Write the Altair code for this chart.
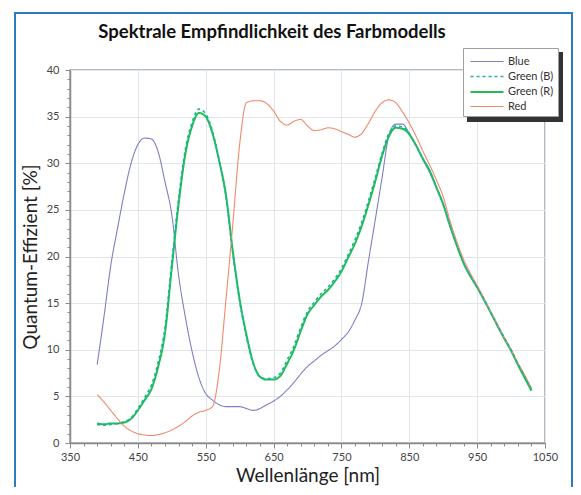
import altair as alt
import pandas as pd

wavelength = list(range(390, 1031, 10))

blue = [8.4, 13.5, 19.0, 23.0, 26.8, 30.0, 32.0, 32.7, 32.6, 31.2,
        28.0, 24.5, 18.0, 13.5, 9.8, 7.0, 5.3, 4.6, 4.1, 3.9,
        3.9, 3.9, 3.7, 3.5, 3.7, 4.1, 4.5, 5.0, 5.7, 6.5,
        7.4, 8.2, 8.8, 9.4, 9.9, 10.4, 11.1, 11.9, 13.2, 15.0,
        19.6, 24.0, 28.5, 33.0, 34.2, 34.2, 33.2, 31.9, 30.4, 29.0,
        27.4, 25.6, 23.3, 21.2, 19.3, 17.9, 16.7, 15.3, 14.0, 12.5,
        11.2, 10.0, 8.5, 7.2, 5.7]

green_r = [2.1, 2.0, 2.1, 2.1, 2.2, 2.6, 3.5, 4.6, 5.8, 8.2,
           11.8, 18.8, 25.6, 31.0, 34.0, 35.4, 35.0, 33.2, 30.2, 26.5,
           20.5, 15.4, 11.6, 8.6, 7.1, 6.8, 6.8, 7.2, 8.5, 10.0,
           12.0, 13.8, 14.8, 15.7, 16.4, 17.3, 18.4, 19.9, 21.4, 23.3,
           25.6, 28.1, 30.8, 32.9, 33.8, 33.7, 33.1, 31.9, 30.5, 29.2,
           27.4, 25.6, 23.3, 21.2, 19.3, 17.9, 16.7, 15.4, 14.0, 12.6,
           11.2, 9.9, 8.4, 7.0, 5.6]

green_b = [2.0, 1.9, 2.0, 2.1, 2.3, 2.7, 3.7, 4.9, 6.2, 8.7,
           12.4, 19.4, 26.2, 31.5, 34.4, 35.8, 35.3, 33.4, 30.3, 26.4,
           20.3, 15.2, 11.4, 8.5, 7.1, 6.9, 7.0, 7.5, 8.9, 10.4,
           12.4, 14.1, 15.1, 16.0, 16.7, 17.6, 18.7, 20.2, 21.8, 23.7,
           26.0, 28.5, 31.1, 33.2, 34.0, 33.9, 33.2, 31.9, 30.5, 29.2,
           27.4, 25.6, 23.3, 21.2, 19.3, 17.9, 16.7, 15.4, 14.0, 12.6,
           11.3, 10.0, 8.5, 7.1, 5.7]

red = [5.2, 4.4, 3.5, 2.6, 1.8, 1.3, 1.0, 0.85, 0.8, 0.9,
       1.1, 1.4, 1.8, 2.3, 2.9, 3.3, 3.5, 3.9, 7.8, 15.5,
       23.5, 32.0, 36.5, 36.7, 36.7, 36.4, 35.6, 34.5, 34.1, 34.5,
       34.7, 34.0, 33.5, 33.6, 33.8, 33.7, 33.4, 33.1, 32.8, 33.2,
       34.3, 35.6, 36.5, 36.8, 36.5, 35.5, 34.3, 32.9, 31.3, 29.8,
       28.2, 26.4, 23.8, 21.6, 19.7, 18.2, 16.9, 15.5, 14.1, 12.7,
       11.3, 10.0, 8.6, 7.3, 5.9]

series_names = ["Blue", "Green (B)", "Green (R)", "Red"]
series_colors = ["#7f7fc9", "#17b69a", "#22bb55", "#f2896b"]
series_dash = [[1, 0], [3, 3], [1, 0], [1, 0]]
series_width = [1.1, 1.6, 2.0, 1.1]

x_ticks = list(range(350, 1051, 20))
y_ticks = list(range(0, 41, 1))

title_text = "Spektrale Empfindlichkeit des Farbmodells"

rows = []
for name, vals in zip(series_names, [blue, green_b, green_r, red]):
    for w, v in zip(wavelength, vals):
        rows.append({"Wellenlänge": w, "Effizienz": v, "Serie": name})
df = pd.DataFrame(rows)

FONT = "Lato"

color = alt.Color(
    "Serie:N",
    scale=alt.Scale(domain=series_names, range=series_colors),
    legend=alt.Legend(
        title=None, orient="none", legendX=393, legendY=-22,
        fillColor="white", strokeColor="#a0a0a0", padding=4,
        symbolType="M-1.9,0H1.9", symbolSize=300, symbolFillColor="transparent",
        labelFont=FONT, labelFontSize=11, labelColor="#333333", rowPadding=0,
        labelOffset=11, symbolOffset=10,
    ),
)
dash = alt.StrokeDash(
    "Serie:N", scale=alt.Scale(domain=series_names, range=series_dash), legend=None
)
swidth = alt.StrokeWidth(
    "Serie:N",
    scale=alt.Scale(type="ordinal", domain=series_names, range=series_width),
    legend=None,
)

x_enc = alt.X(
    "Wellenlänge:Q",
    scale=alt.Scale(domain=[350, 1050], nice=False, zero=False),
    axis=alt.Axis(
        title="Wellenlänge [nm]", values=x_ticks, format="d",
        labelExpr="datum.value % 100 == 50 ? datum.label : ''",
        tickSize={"condition": {"test": "datum.value % 100 == 50", "value": 5}, "value": 3},
        gridOpacity={"condition": {"test": "datum.value % 100 == 50", "value": 1}, "value": 0},
        labelOverlap=False, labelFlush=False, labelPadding=3, titlePadding=4,
    ),
)
y_enc = alt.Y(
    "Effizienz:Q",
    scale=alt.Scale(domain=[0, 40], nice=False),
    axis=alt.Axis(
        title="Quantum-Effizient [%]", values=y_ticks, format="d",
        labelExpr="datum.value % 5 == 0 ? datum.label : ''",
        tickSize={"condition": {"test": "datum.value % 5 == 0", "value": 5}, "value": 3},
        gridOpacity={"condition": {"test": "datum.value % 5 == 0", "value": 1}, "value": 0},
        labelOverlap=False, labelFlush=False, labelPadding=6, titlePadding=6,
    ),
)

base = alt.Chart(df).mark_line(interpolate="monotone").encode(
    x=x_enc, y=y_enc, color=color, strokeDash=dash, strokeWidth=swidth
)
lines_main = base.transform_filter("datum.Serie != 'Green (B)'")
lines_gb = base.transform_filter("datum.Serie == 'Green (B)'")

dummy = pd.DataFrame({"k": [0]})
border = alt.Chart(dummy).mark_rect(
    fill=None, stroke="#2a7bc0", strokeWidth=2
).encode(x=alt.value(-55), x2=alt.value(502), y=alt.value(-57), y2=alt.value(440))
shadow = alt.Chart(dummy).mark_rect(color="#333333").encode(
    x=alt.value(397), x2=alt.value(493), y=alt.value(-18), y2=alt.value(52)
)
title = alt.Chart(dummy).mark_text(
    text=title_text, font=FONT, fontSize=18.5, fontWeight="bold", color="#111111",
    align="center", baseline="alphabetic",
).encode(x=alt.value(202), y=alt.value(-32))

chart = alt.layer(border, shadow, title, lines_main, lines_gb).properties(
    width=475, height=373,
    autosize=alt.AutoSizeParams(type="none"),
    padding={"left": 62, "top": 62, "right": 28, "bottom": 44},
).configure_view(
    stroke="#9aa5b0", strokeWidth=1.5
).configure_axis(
    gridColor="#e1e6ec", gridWidth=1,
    domainColor="#8a8a8a", domainWidth=1.5,
    tickColor="#8a8a8a", tickWidth=1,
    labelFont=FONT, labelFontSize=11, labelColor="#444444",
    titleFont=FONT, titleFontSize=19, titleFontWeight="normal", titleColor="#222222",
)

chart.save("out.html", embed_options={"renderer": "svg", "actions": False})
